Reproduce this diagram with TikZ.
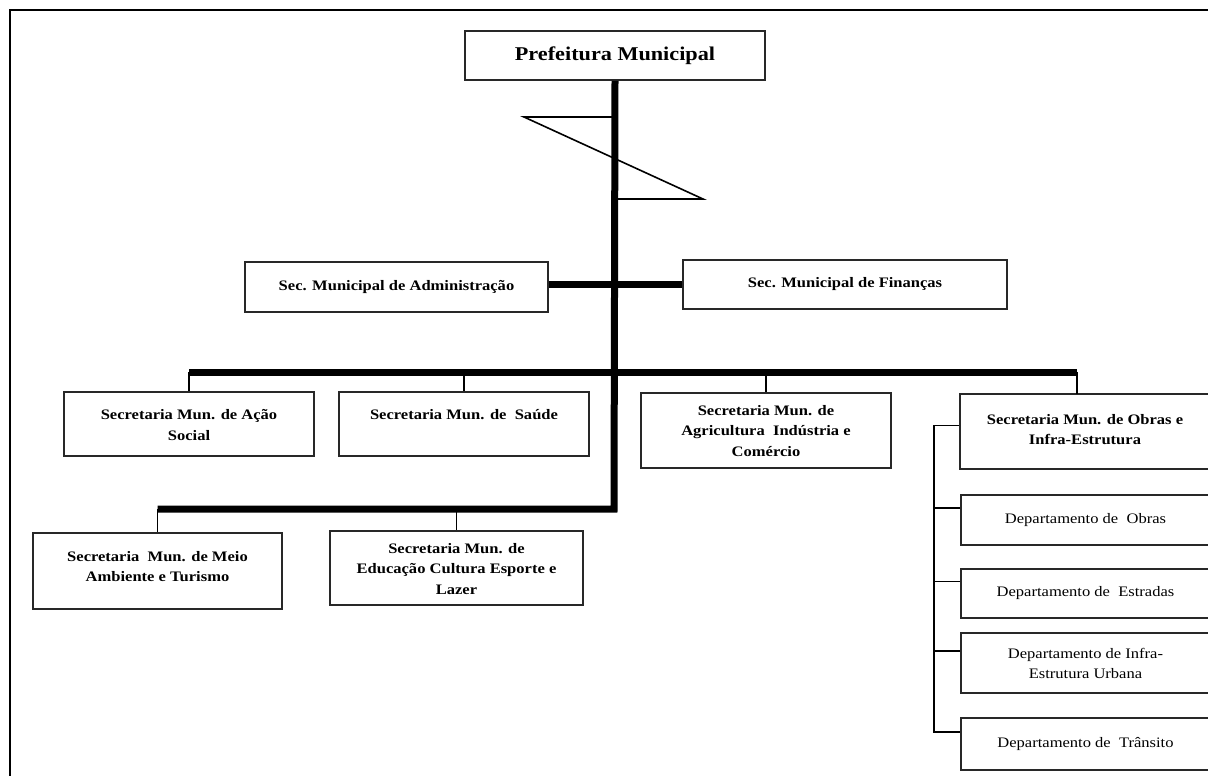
\documentclass[tikz,border=0pt]{standalone}
\usepackage{fontspec}
\setmainfont{Liberation Serif}[FakeStretch=1.14]
\usepackage{tikz}
\usetikzlibrary{positioning,calc}
\definecolor{boxline}{RGB}{40,40,40}
\newcommand{\secfont}{\fontsize{14.5}{20.5}\selectfont\bfseries}
\newcommand{\depfont}{\fontsize{14.5}{20}\selectfont}

\begin{document}
\begin{tikzpicture}[x=1pt,y=-1pt,
    orgbox/.style={draw=boxline,line width=1.6pt,inner sep=0pt,align=center,font=\secfont},
    depbox/.style={orgbox,font=\depfont},
    toptext/.style={font=\secfont,align=center,inner sep=0pt,anchor=north},
    bar/.style={line width=7pt,black},
    link/.style={line width=1.6pt,black}]
    \clip (0,0) rectangle (1208,776);
    \fill[white] (0,0) rectangle (1208,776);
    % page frame
    \draw[line width=2pt] (1208,10) -- (10,10) -- (10,790);
    % top
    \node[orgbox,minimum width=300,minimum height=49,font=\fontsize{19.5}{22}\selectfont\bfseries]
      (pref) at (615,55.5) {Prefeitura Municipal};
    \node[orgbox,minimum width=303,minimum height=50] (adm) at (396.5,287)
      {Sec. Municipal de Administração};
    \node[orgbox,minimum width=324,minimum height=49] (fin) at (845,284.5)
      {Sec. Municipal de Finanças};
    % secretarias
    \node[orgbox,minimum width=250,minimum height=64,
      label={[toptext,yshift=-18pt]north:Secretaria Mun. de Ação\\Social}] (acao) at (189,424) {};
    \node[orgbox,minimum width=250,minimum height=64,
      label={[toptext,yshift=-18pt]north:Secretaria Mun. de~~Saúde}] (saude) at (464,424) {};
    \node[orgbox,minimum width=250,minimum height=75,
      label={[toptext,yshift=-13pt]north:Secretaria Mun. de\\Agricultura~~Indústria e\\Comércio}] (agri) at (766,430.5) {};
    \node[orgbox,minimum width=250,minimum height=75,
      label={[toptext,yshift=-21pt]north:Secretaria Mun. de Obras e\\Infra-Estrutura}] (obras) at (1085,431.5) {};
    \node[orgbox,minimum width=249,minimum height=76,
      label={[toptext,yshift=-19pt]north:Secretaria~~Mun. de Meio\\Ambiente e Turismo}] (meio) at (157.5,571) {};
    \node[orgbox,minimum width=253,minimum height=74,
      label={[toptext,yshift=-13pt]north:Secretaria Mun. de\\Educação Cultura Esporte e\\Lazer}] (educ) at (456.5,568) {};
    % departamentos
    \node[depbox,minimum width=249,minimum height=50] (dobras) at (1085.5,520) {Departamento de~~Obras};
    \node[depbox,minimum width=249,minimum height=49] (destr) at (1085.5,593.5) {Departamento de~~Estradas};
    \node[depbox,minimum width=249,minimum height=60] (dinfra) at (1085.5,663) {Departamento de Infra-\\Estrutura Urbana};
    \node[depbox,minimum width=249,minimum height=52] (dtrans) at (1085.5,744) {Departamento de~~Trânsito};
    \coordinate (hub1) at (614,372);
    \coordinate (hub2) at (614,509);
    \coordinate (obtop) at (1077,394);
    % spine and bars
    \draw[bar] (pref.south) -- (hub2) -- (meio.north |- hub2);
    \draw[bar] (adm.east |- fin.west) -- (fin.west);
    \draw[bar] (acao.north |- hub1) -- (obtop |- hub1);
    \draw[link] (614,117) -- (524,117) -- (703,199) -- (614,199);
    \foreach \n in {acao,saude,agri}
      \draw[link] (\n.north |- hub1) -- (\n.north);
    \draw[link] (obtop |- hub1) -- (obtop);
    \foreach \n in {meio,educ}
      \draw[link] (\n.north |- hub2) -- (\n.north);
    \draw[link] ([yshift=6pt]obras.west) -| ([xshift=-26pt,yshift=12pt]dtrans.west)
      -- ([yshift=12pt]dtrans.west);
    \foreach \n in {dobras,destr,dinfra}
      \draw[link] ([yshift=12pt]\n.west) -- ++(-26,0);
\end{tikzpicture}
\end{document}
